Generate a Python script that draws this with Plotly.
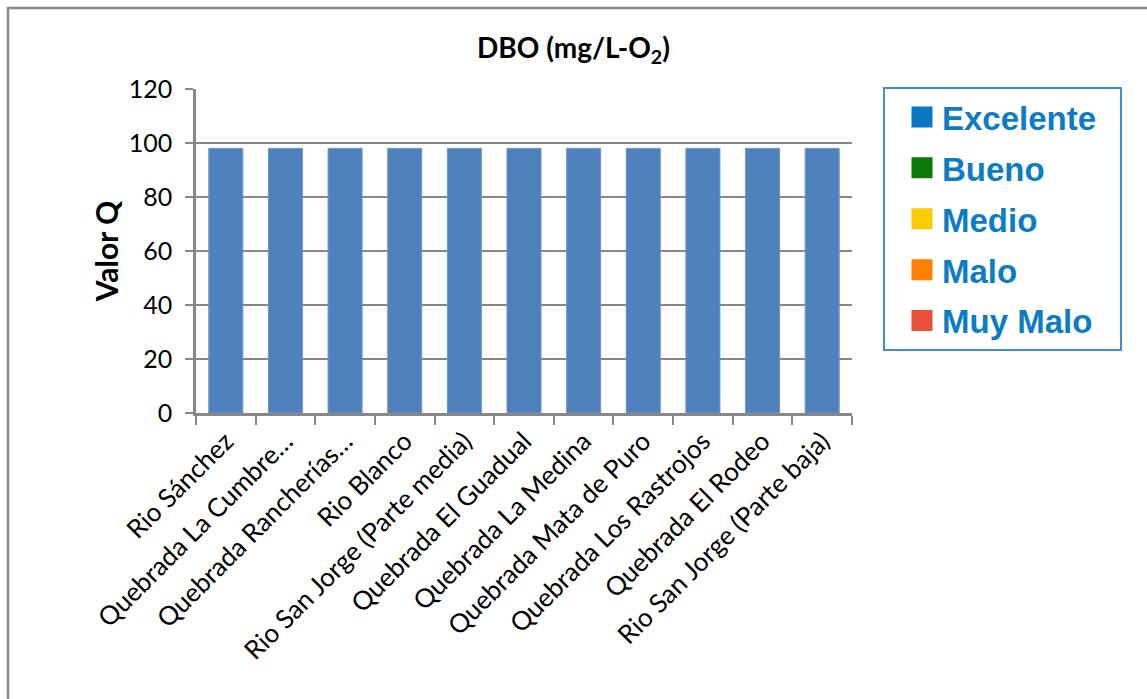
import plotly.graph_objects as go

# Estaciones de muestreo y valor Q de DBO
estaciones = [
    "Rio Sánchez",
    "Quebrada La Cumbre…",
    "Quebrada Rancherías…",
    "Rio Blanco",
    "Rio San Jorge (Parte media)",
    "Quebrada El Guadual",
    "Quebrada La Medina",
    "Quebrada Mata de Puro",
    "Quebrada Los Rastrojos",
    "Quebrada El Rodeo",
    "Rio San Jorge (Parte baja)",
]
valor_q = [98, 98, 98, 98, 98, 98, 98, 98, 98, 98, 98]

# Escala de calidad
categorias = ["Excelente", "Bueno", "Medio", "Malo", "Muy Malo"]
colores_cat = ["#0877c4", "#0b7a0b", "#f8cc00", "#ff8000", "#e8503a"]

W, H = 1147, 699
L, R, T, B = 196, 852, 89, 413
pw, ph = R - L, B - T

def px_x(x):
    return (x - L) / pw

def px_y(y):
    return (B - y) / ph

fig = go.Figure()
fig.add_trace(go.Bar(
    x=estaciones, y=valor_q,
    marker=dict(color="#4f81bd", line=dict(color="#6a95c8", width=1)),
    showlegend=False,
))

# Entradas de la leyenda; el primer nombre lleva espacios duros para dar
# margen derecho al recuadro
for i, (nombre, color) in enumerate(zip(categorias, colores_cat)):
    etiqueta = nombre + ("\u00a0" * 2 if i == 0 else "")
    fig.add_trace(go.Scatter(
        x=[None], y=[None], mode="markers", name=etiqueta,
        legendgroup=nombre,
        marker=dict(symbol="square", size=16, color=color,
                    line=dict(color=color, width=5)),
    ))

grid = "#878787"
fig.update_layout(
    width=W, height=H,
    margin=dict(l=L, r=W - R, t=T, b=H - B, autoexpand=False),
    paper_bgcolor="white", plot_bgcolor="white",
    bargap=0.43,
    title=dict(text="DBO (mg/L-O<sub>2</sub>)", x=0.5, xref="container",
               y=1 - 48 / H, yref="container", yanchor="middle", xanchor="center",
               font=dict(family="Lato", size=28, color="black", weight="bold")),
    font=dict(family="Lato", color="black"),
    legend=dict(
        x=px_x(883), y=px_y(87), xanchor="left", yanchor="top",
        bordercolor="#3d8fd1", borderwidth=2, bgcolor="white",
        font=dict(family="Liberation Sans", size=33, color="#0c7cc4", weight="bold"),
        traceorder="grouped", tracegroupgap=5, indentation=17,
    ),
    xaxis=dict(
        tickangle=-45, tickfont=dict(size=26, family="Lato"),
        showline=True, linecolor=grid, linewidth=2.5,
        ticks="outside", tickson="boundaries", ticklen=9, tickcolor=grid, tickwidth=2,
        showgrid=False,
    ),
    yaxis=dict(
        range=[0, 120], dtick=20, tickfont=dict(size=25, family="Lato"),
        ticklabelstandoff=8,
        showline=True, linecolor=grid, linewidth=2.5,
        ticks="outside", ticklen=8, tickcolor=grid, tickwidth=2,
        showgrid=True, gridcolor=grid, gridwidth=2, zeroline=False,
        title=dict(text="Valor Q", font=dict(size=30, family="Lato", weight="bold"),
                   standoff=2),
    ),
    shapes=[dict(
        type="rect", xref="paper", yref="paper",
        x0=px_x(8), x1=px_x(1200), y0=px_y(720), y1=px_y(8),
        line=dict(color="#8a8a8a", width=2.5), fillcolor="rgba(0,0,0,0)", layer="below",
    )],
)

fig.write_html("out.html")
